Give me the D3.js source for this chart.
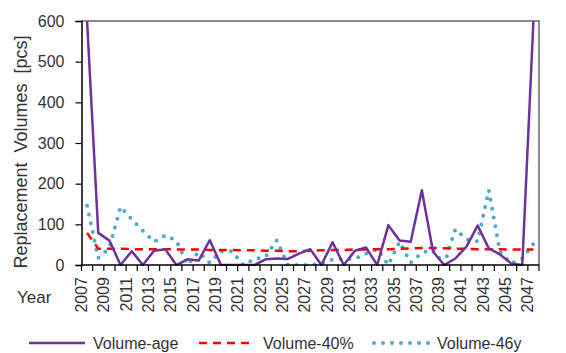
<!DOCTYPE html>
<html>
<head>
<meta charset="utf-8">
<script src="https://cdn.jsdelivr.net/npm/d3@7/dist/d3.min.js"></script>
<style>
  body { margin: 0; background: #fff; }
  text { font-family: 'Liberation Sans', Arial, sans-serif; }
</style>
</head>
<body>
<script>
// Constants
const width = 566;
const height = 353;
const margin = { top: 21, right: 27, bottom: 88, left: 81.5 };
const innerW = width - margin.left - margin.right;
const innerH = height - margin.top - margin.bottom;

const yAxisLabel = 'Replacement  Volumes  [pcs]';
const xAxisLabel = 'Year';

// Data
const years = [2007, 2008, 2009, 2010, 2011, 2012, 2013, 2014, 2015, 2016,
  2017, 2018, 2019, 2020, 2021, 2022, 2023, 2024, 2025, 2026,
  2027, 2028, 2029, 2030, 2031, 2032, 2033, 2034, 2035, 2036,
  2037, 2038, 2039, 2040, 2041, 2042, 2043, 2044, 2045, 2046, 2047];
const volumeAge = [600, 79, 60, 0, 34, 0, 35, 39, 0, 14,
  11, 61, 0, 0, 0, 0, 14, 16, 15, 28,
  39, 0, 56, 0, 35, 43, 0, 98, 60, 57,
  184, 33, 0, 16, 45, 97, 41, 26, 4, 0, 600];
const volume40 = [79, 40, 40, 40, 39, 39, 39, 39, 38, 38,
  38, 37, 37, 37, 36, 36, 35, 35, 34, 34,
  35, 36, 37, 37, 38, 38, 39, 39, 40, 41,
  42, 42, 41, 40, 40, 39, 39, 39, 38, 38, 38];
const volume46 = [146, 17, 42, 143, 112, 84, 57, 73, 60, 1,
  32, 5, 34, 34, 0, 15, 20, 61, 0, 0,
  0, 3, 14, 15, 15, 28, 39, 0, 57, 6,
  30, 38, 0, 88, 63, 58, 184, 32, 4, 16, 52];
const yTicks = [0, 100, 200, 300, 400, 500, 600];
const seriesNames = ['Volume-age', 'Volume-40%', 'Volume-46y'];

const svg = d3.select('body')
  .append('svg')
  .attr('width', width)
  .attr('height', height);

const g = svg.append('g')
  .attr('transform', `translate(${margin.left},${margin.top})`);

// Scales
const xScale = d3.scaleBand().domain(years).range([0, innerW]);
const yScale = d3.scaleLinear().domain([0, 600]).range([innerH, 0]);
const cx = (d) => xScale(d) + xScale.bandwidth() / 2;

g.append('clipPath')
  .attr('id', 'plot-clip')
  .append('rect')
  .attr('x', 0)
  .attr('y', -1)
  .attr('width', innerW)
  .attr('height', innerH + 2);

// Plot border (top / right)
g.append('path')
  .attr('d', `M0,0H${innerW}V${innerH}`)
  .attr('fill', 'none')
  .attr('stroke', '#8c8c8c')
  .attr('stroke-width', 2);

// Series lines
const line = (vals) => d3.line()
  .x((d, i) => cx(years[i]))
  .y((d) => yScale(d))(vals);

const plot = g.append('g').attr('clip-path', 'url(#plot-clip)');

plot.append('path')
  .attr('d', line(volume46))
  .attr('fill', 'none')
  .attr('stroke', '#4bacc6')
  .attr('stroke-width', 4)
  .attr('stroke-linecap', 'round')
  .attr('stroke-dasharray', '0 9');

plot.append('path')
  .attr('d', line(volume40))
  .attr('fill', 'none')
  .attr('stroke', '#ff0000')
  .attr('stroke-width', 2.5)
  .attr('stroke-dasharray', '8 6');

plot.append('path')
  .attr('d', line(volumeAge))
  .attr('fill', 'none')
  .attr('stroke', '#7030a0')
  .attr('stroke-width', 2.5)
  .attr('stroke-linejoin', 'round');

// Y axis
const yAxisG = g.append('g')
  .call(d3.axisLeft(yScale).tickValues(yTicks).tickSize(6).tickPadding(11));
yAxisG.select('.domain').attr('stroke', '#000').attr('stroke-width', 1.5);
yAxisG.selectAll('.tick line').attr('stroke', '#000').attr('stroke-width', 1.2);
yAxisG.selectAll('.tick text')
  .attr('font-size', '16px')
  .attr('fill', '#333')
  .style('font-family', "'Liberation Sans', Arial, sans-serif");

// X axis
const xAxisG = g.append('g')
  .attr('transform', `translate(0,${innerH})`);
xAxisG.append('line')
  .attr('x1', 0)
  .attr('x2', innerW)
  .attr('stroke', '#000')
  .attr('stroke-width', 1.5);
xAxisG.selectAll('.xtick')
  .data(years.concat(['end']))
  .join('line')
  .attr('class', 'xtick')
  .attr('x1', (d) => (d === 'end' ? innerW : xScale(d)))
  .attr('x2', (d) => (d === 'end' ? innerW : xScale(d)))
  .attr('y1', 0)
  .attr('y2', 6)
  .attr('stroke', '#000')
  .attr('stroke-width', 1.2);
xAxisG.selectAll('.xlabel')
  .data(years.filter((d, i) => i % 2 === 0))
  .join('text')
  .attr('class', 'xlabel')
  .attr('transform', (d) => `translate(${cx(d)},12) rotate(-90)`)
  .attr('text-anchor', 'end')
  .attr('font-size', '16px')
  .attr('fill', '#333')
  .text((d) => d);

// Axis titles
svg.append('text')
  .attr('transform', 'translate(27,152) rotate(-90)')
  .attr('text-anchor', 'middle')
  .attr('font-size', '18px')
  .attr('fill', '#333')
  .style('white-space', 'pre')
  .text(yAxisLabel);

svg.append('text')
  .attr('x', 17)
  .attr('y', 303)
  .attr('font-size', '17px')
  .attr('fill', '#333')
  .text(xAxisLabel);

// Legend
const legend = svg.append('g').attr('transform', 'translate(0,343)');
const legendItems = [
  { x: 29, color: '#7030a0', dash: null, w: 2.5, cap: 'butt' },
  { x: 199, color: '#ff0000', dash: '8 6', w: 2.5, cap: 'butt' },
  { x: 373, color: '#4bacc6', dash: '0 9', w: 4, cap: 'round' },
];
legendItems.forEach((d, i) => {
  legend.append('line')
    .attr('x1', d.x + (d.cap === 'round' ? 1 : 0))
    .attr('x2', d.x + 56)
    .attr('stroke', d.color)
    .attr('stroke-width', d.w)
    .attr('stroke-linecap', d.cap)
    .attr('stroke-dasharray', d.dash);
  legend.append('text')
    .attr('x', d.x + 64)
    .attr('y', 6)
    .attr('font-size', '16px')
    .attr('fill', '#333')
    .text(seriesNames[i]);
});
</script>
</body>
</html>
